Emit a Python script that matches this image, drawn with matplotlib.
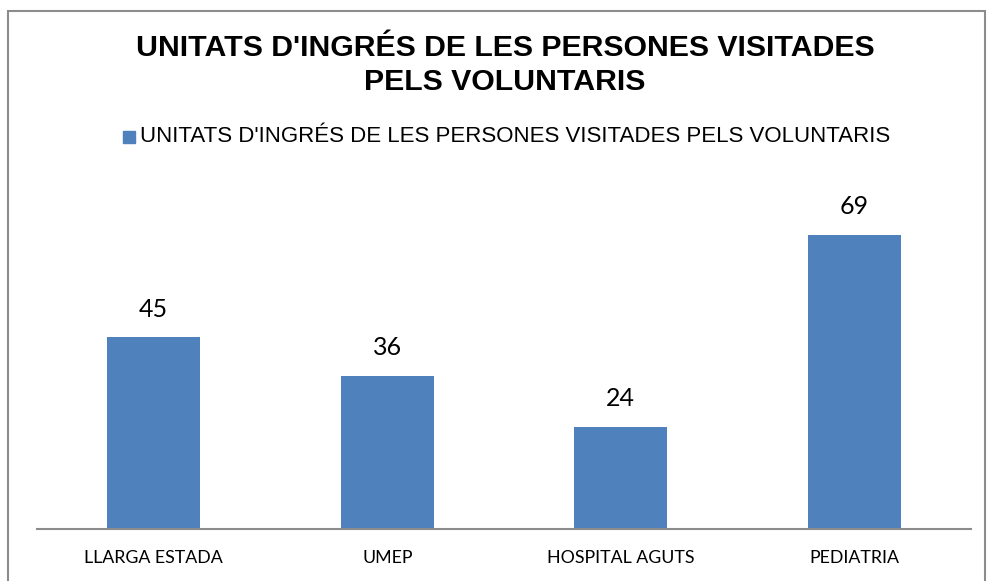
import matplotlib.pyplot as plt
from matplotlib.patches import Rectangle

categories = ['LLARGA ESTADA', 'UMEP', 'HOSPITAL AGUTS', 'PEDIATRIA']
values = [45, 36, 24, 69]
series_name = "UNITATS D'INGRÉS DE LES PERSONES VISITADES PELS VOLUNTARIS"

W, H = 988, 581
fig = plt.figure(figsize=(W / 100, H / 100), dpi=100)

# marc gris del gràfic
fig.patches.append(Rectangle((8 / W, -0.05), (985 - 8) / W, 1.05 - 11 / H,
                             transform=fig.transFigure, fill=False,
                             edgecolor='#8c8c8c', linewidth=1.5))

# eixos: línia base a y=529, ample de 37 a 971 px
ymax = 80
base = 529
px_per_unit = 294 / 69
top = base - ymax * px_per_unit
ax = fig.add_axes([37 / W, (H - base) / H, (971 - 37) / W, (base - top) / H])

x = range(len(categories))
bars = ax.bar(x, values, width=0.4, color='#4F81BD')
ax.set_xlim(-0.5, len(categories) - 0.5)
ax.set_ylim(0, ymax)

for xi, v in zip(x, values):
    ax.text(xi, v + 6.6, str(v), ha='center', va='center',
            fontsize=18, family='Lato', color='black')

ax.set_xticks(list(x))
ax.set_xticklabels(categories, family='Lato', fontsize=12.8)
ax.tick_params(axis='x', length=0, pad=15)
ax.set_yticks([])
for s in ['top', 'right', 'left']:
    ax.spines[s].set_visible(False)
ax.spines['bottom'].set_color('#8c8c8c')
ax.spines['bottom'].set_linewidth(1.5)

fig.text(505 / W, 1 - 48 / H, "UNITATS D'INGRÉS DE LES PERSONES VISITADES",
         ha='center', va='center', fontsize=21.8, fontweight='bold',
         family='Liberation Sans')
fig.text(505 / W, 1 - 82 / H, "PELS VOLUNTARIS",
         ha='center', va='center', fontsize=21.8, fontweight='bold',
         family='Liberation Sans')

# llegenda
fig.patches.append(Rectangle((123 / W, 1 - 143 / H), 12 / W, 12 / H,
                             transform=fig.transFigure, color='#4F81BD'))
fig.text(140 / W, 1 - 137 / H, series_name, ha='left', va='center',
         fontsize=16, family='Liberation Sans')

fig.savefig('out.png', dpi=100)
